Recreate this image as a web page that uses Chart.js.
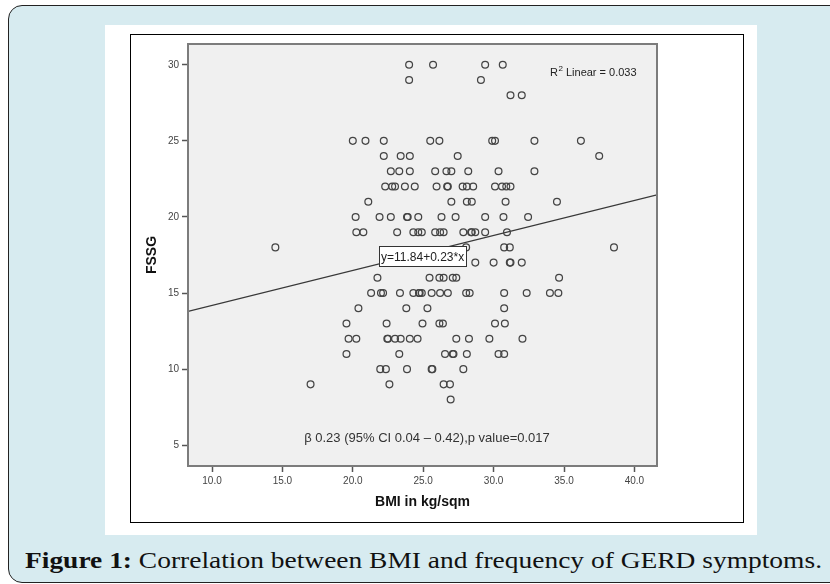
<!DOCTYPE html>
<html>
<head>
<meta charset="utf-8">
<script src="https://cdn.jsdelivr.net/npm/chart.js@4.4.1/dist/chart.umd.min.js"></script>
<style>
html,body{margin:0;padding:0;background:#fff;}
body{width:830px;height:584px;position:relative;overflow:hidden;font-family:"Liberation Sans",Arial,sans-serif;}
#outer{position:absolute;left:8px;top:5px;width:840px;height:578px;background:#d7ebf0;border:1px solid #222;border-radius:14px;box-sizing:border-box;}
#panel{position:absolute;left:105px;top:25px;width:652px;height:510px;background:#fff;}
#frame{position:absolute;left:130px;top:34px;width:614px;height:489px;border:1px solid #000;box-sizing:border-box;}
#wrap{position:absolute;left:131px;top:35px;width:612px;height:487px;}
#caption{position:absolute;left:25px;top:546px;white-space:nowrap;font-family:"Liberation Serif",serif;font-size:24px;line-height:28px;color:#111;transform-origin:left top;}
#caption b{font-weight:bold;}
</style>
</head>
<body>
<div id="outer"></div>
<div id="panel"></div>
<div id="frame"></div>
<div id="wrap"><canvas id="c" width="612" height="487"></canvas></div>
<div id="caption"><b>Figure 1:</b> Correlation between BMI and frequency of GERD symptoms.</div>
<script>
// ---- data ----
const bmi = [
  24.0, 25.7, 29.4, 30.65,
  24.0, 29.1,
  31.2, 32.0,
  20.0, 20.9, 22.2, 25.5, 26.15, 29.9, 30.1, 32.9, 36.2,
  22.2, 23.4, 24.05, 27.45, 37.5,
  22.7, 23.3, 24.05, 25.85, 26.65, 27.0, 28.2, 30.35, 32.9,
  22.3, 22.8, 23.0, 23.7, 24.4, 25.95, 26.7, 26.75, 27.8, 28.1, 28.55, 30.1, 30.6, 30.9, 31.2,
  21.1, 27.0, 28.1, 28.45, 30.85, 34.5,
  20.2, 21.9, 22.7, 23.85, 23.9, 24.65, 26.3, 27.3, 29.4, 30.7, 32.45,
  20.25, 20.75, 23.15, 24.3, 24.65, 24.9, 25.85, 26.2, 26.45, 27.85, 28.4, 28.45, 28.7, 29.4, 30.95,
  14.5, 28.05, 30.75, 31.15, 38.55,
  22.6, 24.25, 24.55, 25.6, 26.3, 27.4, 28.7, 30.0, 31.15, 31.2, 32.0,
  21.75, 25.45, 26.15, 26.45, 27.1, 27.35, 34.65,
  21.3, 22.0, 22.15, 23.35, 24.3, 24.7, 24.75, 24.9, 25.6, 26.2, 26.75, 28.05, 28.3, 30.75, 32.35, 34.0, 34.6,
  20.4, 23.8, 25.3, 30.75,
  19.55, 22.4, 24.95, 26.15, 26.4, 30.1, 30.8,
  19.7, 20.25, 22.45, 22.5, 23.0, 23.4, 24.05, 24.6, 27.35, 28.25, 29.7, 32.05,
  19.55, 23.3, 26.55, 27.1, 27.15, 28.1, 30.35, 30.75,
  21.95, 22.35, 23.85, 25.6, 25.65, 27.85,
  17.0, 22.6, 26.45, 26.9,
  26.95
];
const fssg = [
  30, 30, 30, 30,
  29, 29,
  28, 28,
  25, 25, 25, 25, 25, 25, 25, 25, 25,
  24, 24, 24, 24, 24,
  23, 23, 23, 23, 23, 23, 23, 23, 23,
  22, 22, 22, 22, 22, 22, 22, 22, 22, 22, 22, 22, 22, 22, 22,
  21, 21, 21, 21, 21, 21,
  20, 20, 20, 20, 20, 20, 20, 20, 20, 20, 20,
  19, 19, 19, 19, 19, 19, 19, 19, 19, 19, 19, 19, 19, 19, 19,
  18, 18, 18, 18, 18,
  17, 17, 17, 17, 17, 17, 17, 17, 17, 17, 17,
  16, 16, 16, 16, 16, 16, 16,
  15, 15, 15, 15, 15, 15, 15, 15, 15, 15, 15, 15, 15, 15, 15, 15, 15,
  14, 14, 14, 14,
  13, 13, 13, 13, 13, 13, 13,
  12, 12, 12, 12, 12, 12, 12, 12, 12, 12, 12, 12,
  11, 11, 11, 11, 11, 11, 11, 11,
  10, 10, 10, 10, 10, 10,
  9, 9, 9, 9,
  8
];
// fit line end points (read at the frame edges)
const fitX = [8.295, 41.605];
const fitY = [13.8, 21.45];
const xTicks = [10, 15, 20, 25, 30, 35, 40];
const yTicks = [5, 10, 15, 20, 25, 30];
const xTitle = "BMI in kg/sqm";
const yTitle = "FSSG";
const eqText = "y=11.84+0.23*x";
const r2Label = ["R", "2", " Linear = 0.033"];
const noteText = "\u03B2 0.23 (95% CI 0.04 \u2013 0.42),p value=0.017";

const FONT = "'Liberation Sans', Arial, sans-serif";

const framePlugin = {
  id: 'spssFrame',
  beforeDraw(chart) {
    const {ctx, chartArea: a} = chart;
    ctx.save();
    ctx.fillStyle = '#f0f0f0';
    ctx.fillRect(a.left, a.top, a.right - a.left, a.bottom - a.top);
    ctx.restore();
  },
  afterDatasetsDraw(chart) {
    const {ctx, chartArea: a} = chart;
    ctx.save();
    // frame
    ctx.strokeStyle = '#7c7c7c';
    ctx.lineWidth = 2;
    ctx.strokeRect(a.left, a.top, a.right - a.left, a.bottom - a.top);
    // equation box
    const bx = a.left + 191, by = a.top + 202, bw = 88, bh = 21;
    ctx.fillStyle = '#ffffff';
    ctx.fillRect(bx, by, bw, bh);
    ctx.strokeStyle = '#333';
    ctx.lineWidth = 1;
    ctx.strokeRect(bx + 0.5, by + 0.5, bw - 1, bh - 1);
    ctx.fillStyle = '#222';
    ctx.font = '12px ' + FONT;
    ctx.textBaseline = 'middle';
    ctx.textAlign = 'left';
    ctx.fillText(eqText, bx + 2, by + bh / 2 + 1);
    // R2 label
    let rx = a.left + 362, ry = a.top + 32;
    ctx.textBaseline = 'alphabetic';
    ctx.font = '11px ' + FONT;
    ctx.fillText(r2Label[0], rx, ry);
    rx += ctx.measureText(r2Label[0]).width;
    ctx.font = '8px ' + FONT;
    ctx.fillText(r2Label[1], rx + 0.5, ry - 5);
    rx += ctx.measureText(r2Label[1]).width + 0.5;
    ctx.font = '11px ' + FONT;
    ctx.fillText(r2Label[2], rx, ry);
    // note
    ctx.font = '13px ' + FONT;
    ctx.fillStyle = '#333';
    ctx.textAlign = 'center';
    ctx.textBaseline = 'middle';
    ctx.fillText(noteText, a.left + 239, a.top + 394);
    ctx.restore();
  }
};

const ctx = document.getElementById('c').getContext('2d');
new Chart(ctx, {
  type: 'scatter',
  data: {
    datasets: [
      {
        data: bmi.map((x, i) => ({x: x, y: fssg[i]})),
        pointRadius: 3.4,
        pointBorderWidth: 1.25,
        borderColor: '#444444',
        backgroundColor: 'rgba(0,0,0,0)',
        pointStyle: 'circle'
      },
      {
        type: 'line',
        data: fitX.map((x, i) => ({x: x, y: fitY[i]})),
        borderColor: '#383838',
        borderWidth: 1.3,
        pointRadius: 0,
        fill: false,
        tension: 0
      }
    ]
  },
  options: {
    responsive: false,
    animation: false,
    devicePixelRatio: 1,
    layout: {padding: {left: 0, top: 4, right: 86, bottom: 0}},
    plugins: {legend: {display: false}, tooltip: {enabled: false}},
    scales: {
      x: {
        type: 'linear',
        min: 8.295,
        max: 41.605,
        afterBuildTicks: s => { s.ticks = xTicks.map(v => ({value: v})); },
        afterFit: s => { s.height = 56; },
        grid: {drawOnChartArea: false, drawTicks: true, tickLength: 6, tickWidth: 1.5, tickColor: '#555'},
        border: {display: false},
        ticks: {font: {family: FONT, size: 10}, color: '#444', padding: 3, maxRotation: 0, autoSkip: false,
                callback: v => Number(v).toFixed(1)},
        title: {display: true, text: xTitle, font: {family: FONT, size: 14, weight: 'bold'}, color: '#111',
                padding: {top: 0, bottom: 11}}
      },
      y: {
        type: 'linear',
        min: 3.636,
        max: 31.364,
        afterBuildTicks: s => { s.ticks = yTicks.map(v => ({value: v})); },
        afterFit: s => { s.width = 57; },
        grid: {drawOnChartArea: false, drawTicks: true, tickLength: 6, tickWidth: 1.5, tickColor: '#555'},
        border: {display: false},
        ticks: {font: {family: FONT, size: 10}, color: '#444', padding: 3, autoSkip: false,
                callback: v => String(v)},
        title: {display: true, text: yTitle, font: {family: FONT, size: 14, weight: 'bold'}, color: '#111',
                padding: {top: 13, bottom: 0}}
      }
    }
  },
  plugins: [framePlugin]
});

// fit caption to its width in the reference
const cap = document.getElementById('caption');
const w = cap.getBoundingClientRect().width;
cap.style.transform = 'scaleX(' + (797 / w) + ')';
</script>
</body>
</html>
